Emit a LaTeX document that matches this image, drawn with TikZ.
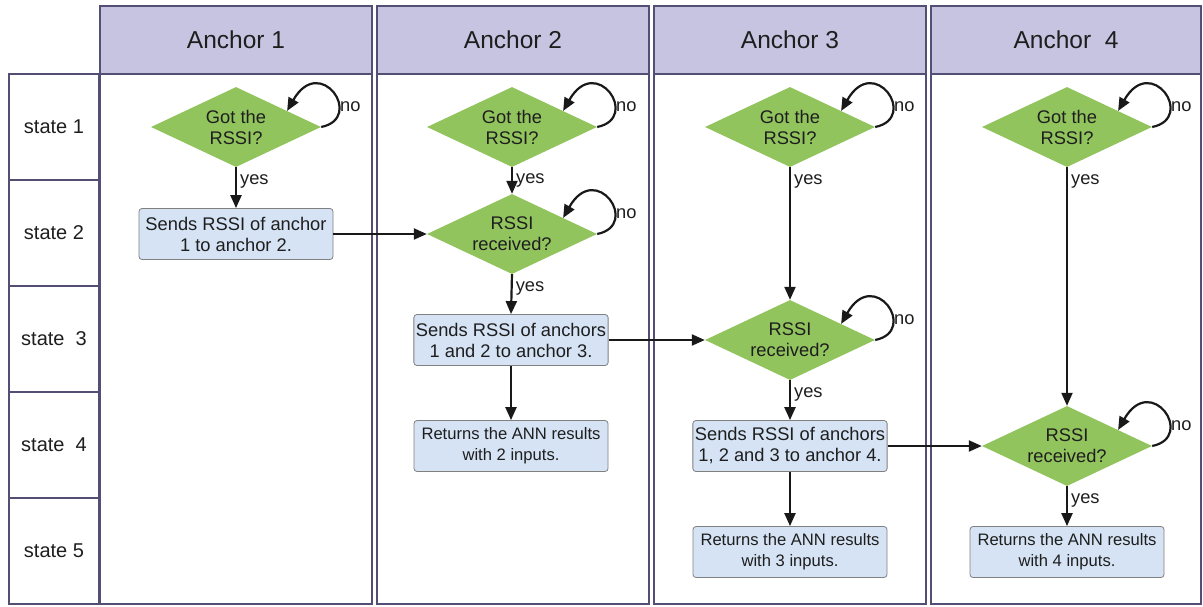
\documentclass[tikz,border=0pt]{standalone}
\usepackage{fontspec}
\setmainfont{Liberation Sans}
\usetikzlibrary{shapes.geometric,arrows.meta,calc}
\definecolor{lanebd}{RGB}{82,78,116}
\definecolor{hdrfill}{RGB}{199,196,226}
\definecolor{dgreen}{RGB}{146,196,94}
\definecolor{boxfill}{RGB}{213,227,244}
\definecolor{boxbd}{RGB}{128,128,128}
\definecolor{txt}{RGB}{30,30,30}
\begin{document}
\begin{tikzpicture}[x=1pt,y=-1pt,
  font=\fontsize{18.3}{21}\selectfont,
  lanebox/.style={rectangle, draw=lanebd, line width=2.2pt, inner sep=0pt, text=txt},
  hdr/.style={lanebox, fill=hdrfill, minimum height=68pt, font=\fontsize{24.5}{28}\selectfont},
  lanebody/.style={lanebox, fill=white, minimum height=530pt},
  statecell/.style={lanebox, minimum width=90pt, minimum height=106pt, font=\fontsize{20}{24}\selectfont},
  decision/.style={diamond, fill=dgreen, aspect=2.1, inner sep=0pt, minimum width=170pt, minimum height=80pt, align=center, text=txt},
  process/.style={rectangle, rounded corners=3pt, draw=boxbd, line width=0.8pt, fill=boxfill, minimum width=194pt, minimum height=51pt, align=center, inner sep=2pt, text=txt},
  result/.style={process, font=\fontsize{16.6}{21}\selectfont},
  arr/.style={-{Triangle[length=13pt,width=11pt]}, line width=2.2pt, draw=black!90},
  lbl/.style={right, inner sep=3pt, text=txt},
  nolbl/.style={anchor=west, inner sep=0pt, text=txt},
]
\useasboundingbox (0,0) rectangle (1203,606);

% lanes
\node[hdr, minimum width=272pt] (h1) at (236,40) {Anchor 1};
\node[hdr, minimum width=272pt] (h2) at (513,40) {Anchor 2};
\node[hdr, minimum width=272pt] (h3) at (790,40) {Anchor 3};
\node[hdr, minimum width=270pt] (h4) at (1066,40) {Anchor\ \ 4};
\node[lanebody, minimum width=272pt] (b1) at (236,339) {};
\node[lanebody, minimum width=272pt] (b2) at (513,339) {};
\node[lanebody, minimum width=272pt] (b3) at (790,339) {};
\node[lanebody, minimum width=270pt] (b4) at (1066,339) {};

% states
\node[statecell] (s1) at (54,127) {state 1};
\node[statecell] (s2) at (54,233) {state 2};
\node[statecell] (s3) at (54,339) {state\ \ 3};
\node[statecell] (s4) at (54,445) {state\ \ 4};
\node[statecell] (s5) at (54,551) {state 5};

% decisions
\node[decision] (d1) at (236,127) {Got the\\RSSI?};
\node[decision] (d2) at (512,127) {Got the\\RSSI?};
\node[decision] (d3) at (790,127) {Got the\\RSSI?};
\node[decision] (d4) at (1067,127) {Got the\\RSSI?};
\node[decision] (r2) at (512,234) {RSSI\\received?};
\node[decision] (r3) at (790,340) {RSSI\\received?};
\node[decision] (r4) at (1067,446) {RSSI\\received?};

% processes
\node[process] (p1) at (236,234) {Sends RSSI of anchor\\1 to anchor 2.};
\node[process] (p2) at (511,340) {Sends RSSI of anchors\\1 and 2 to anchor 3.};
\node[result] (q2) at (511,446) {Returns the ANN results\\with 2 inputs.};
\node[process] (p3) at (790,446) {Sends RSSI of anchors\\1, 2 and 3 to anchor 4.};
\node[result] (q3) at (790,552) {Returns the ANN results\\with 3 inputs.};
\node[result] (q4) at (1067,552) {Returns the ANN results\\with 4 inputs.};

% self loops
\foreach \d in {d1,d2,d3,d4,r2,r3,r4}{
  \draw[arr] (\d.east) .. controls +(44,-9) and +(33,-58) .. ($(\d.north)!0.6!(\d.east)$);
  \node[nolbl] (no-\d) at ($(\d.center)+(104,-20)$) {no};
}

% vertical flow
\draw[arr] (d1.south) -- node[lbl, pos=0.35] {yes} (p1.north);
\draw[arr] (d2.south) -- node[lbl, pos=0.5] {yes} (r2.north);
\draw[arr] (r2.south) -- node[lbl, pos=0.35] {yes} (p2.north);
\draw[arr] (p2.south) -- (q2.north);
\draw[arr] (d3.south) -- node[lbl, pos=0.11] {yes} (r3.north);
\draw[arr] (r3.south) -- node[lbl, pos=0.35] {yes} (p3.north);
\draw[arr] (p3.south) -- (q3.north);
\draw[arr] (d4.south) -- node[lbl, pos=0.06] {yes} (r4.north);
\draw[arr] (r4.south) -- node[lbl, pos=0.35] {yes} (q4.north);

% horizontal flow
\draw[arr] (p1.east) -- (r2.west);
\draw[arr] (p2.east) -- (r3.west);
\draw[arr] (p3.east) -- (r4.west);
\end{tikzpicture}
\end{document}
